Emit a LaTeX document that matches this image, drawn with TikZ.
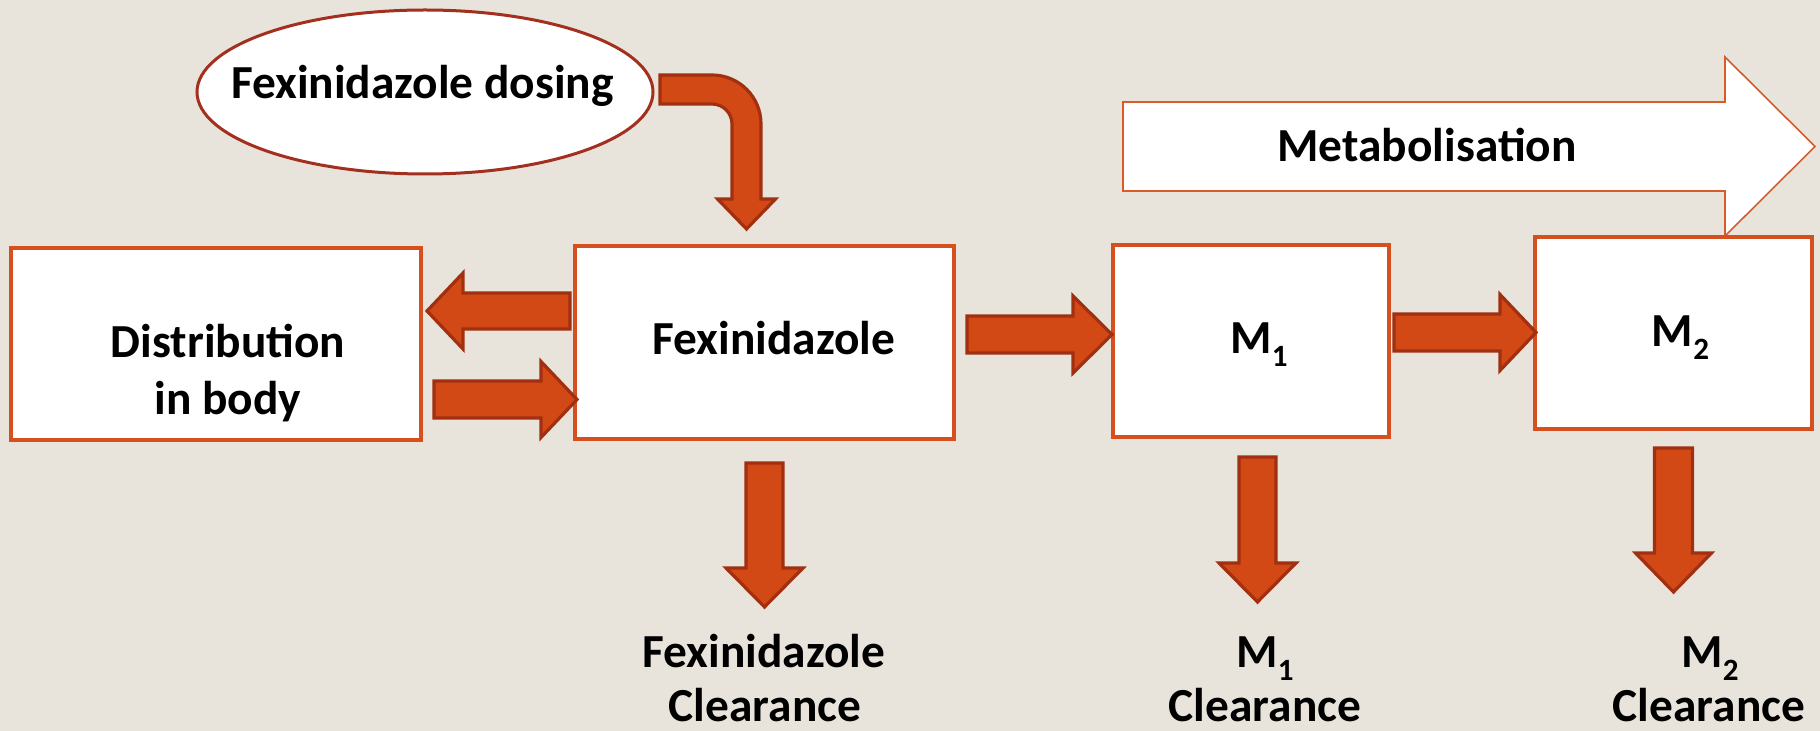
\documentclass[tikz,border=0pt]{standalone}
\usepackage{fontspec}
\setmainfont{Carlito}
\usetikzlibrary{calc,shapes.geometric}
\definecolor{bgc}{HTML}{E8E4DC}
\definecolor{afill}{HTML}{D24916}
\definecolor{aline}{HTML}{A03010}
\definecolor{boxline}{HTML}{D5501E}
\definecolor{ellline}{HTML}{A3301F}
\definecolor{metline}{HTML}{DA5A2A}
\newcommand\subd[1]{\raisebox{-6.5pt}{\fontsize{15.5}{15.5}\selectfont #1}}
\newcommand\blockarrow[5]{%
  \coordinate (tmpH) at ($(#2)!#5!(#1)$);
  \draw[barrow] ($(#1)!#3!90:(#2)$) -- ($(tmpH)!#3!-90:(#1)$) -- ($(tmpH)!#4!-90:(#1)$) -- (#2)
    -- ($(tmpH)!#4!90:(#1)$) -- ($(tmpH)!#3!90:(#1)$) -- ($(#1)!#3!-90:(#2)$) -- cycle;
}
\begin{document}
\begin{tikzpicture}[x=0.5pt,y=-0.5pt,
  barrow/.style={fill=afill,draw=aline,line width=1.6pt,line join=miter},
  boxnode/.style={draw=boxline,line width=2pt,fill=white,inner sep=0pt,rectangle},
  txt/.style={font=\fontsize{23.7}{28.5}\selectfont\bfseries,inner sep=0pt,anchor=base,text=black}]
\useasboundingbox (0,0) rectangle (1820,731);
\fill[bgc] (0,0) rectangle (1820,731);
% metabolisation arrow
\draw[fill=white,draw=metline,line width=0.8pt] (1123,102) -- (1725,102) -- (1725,57) -- (1815,146.5)
  -- (1725,236) -- (1725,191) -- (1123,191) -- cycle;
% boxes
\node[boxnode,minimum width=205pt,minimum height=96pt] (dist) at (216,344) {};
\node[boxnode,minimum width=189.5pt,minimum height=96.5pt] (fex) at (764.5,342.5) {};
\node[boxnode,minimum width=138pt,minimum height=96pt] (m1) at (1251,341) {};
\node[boxnode,minimum width=138.5pt,minimum height=96pt] (m2) at (1673.5,333) {};
\node[ellipse,draw=ellline,line width=1.5pt,fill=white,minimum width=228pt,minimum height=82pt,inner sep=0pt] (dose) at (425,92) {};
% bent arrow
\draw[barrow] (660,75) -- (712,75) arc[start angle=90,end angle=0,radius=24.5pt] -- (761,199) -- (775.5,199)
  -- (746.5,229) -- (717.5,199) -- (732,199) -- (732,124) arc[start angle=0,end angle=90,radius=10pt]
  -- (660,104) -- cycle;
% straight block arrows
\coordinate (a1s) at (570,311);   \coordinate (a1e) at (427,311);
\coordinate (a2s) at (434,399.5); \coordinate (a2e) at (577,399.5);
\coordinate (a3s) at (967,334.5); \coordinate (a3e) at (1112,334.5);
\coordinate (a4s) at (1394,332.5);\coordinate (a4e) at (1536,332.5);
\coordinate (c1s) at (764.5,463); \coordinate (c1e) at (764.5,607);
\coordinate (c2s) at (1257.5,457);\coordinate (c2e) at (1257.5,602);
\coordinate (c3s) at (1673.5,448);\coordinate (c3e) at (1673.5,592);
\blockarrow{a1s}{a1e}{9pt}{19pt}{18pt}
\blockarrow{a2s}{a2e}{9.25pt}{19pt}{18pt}
\blockarrow{a3s}{a3e}{9.25pt}{19.25pt}{19.5pt}
\blockarrow{a4s}{a4e}{9.25pt}{19pt}{18pt}
\blockarrow{c1s}{c1e}{9.25pt}{19.25pt}{19.5pt}
\blockarrow{c2s}{c2e}{9.25pt}{19.25pt}{19.5pt}
\blockarrow{c3s}{c3e}{9.5pt}{19pt}{19.5pt}
% texts
\node[txt] (dosetxt) at (422.5,99) {Fexinidazole dosing};
\node[txt] (disttxta) at (228,358) {Distribution};
\node[txt] (disttxtb) at (228,415) {in body};
\node[txt] (fextxt) at (774,355) {Fexinidazole};
\node[txt] (mettxt) at (1427,162) {Metabolisation};
\node[txt] (m1txt) at (1259,354) {M\subd{1}};
\node[txt] (m2txt) at (1680.5,347) {M\subd{2}};
\node[txt] (fexcla) at (764,667) {Fexinidazole};
\node[txt,text depth=0pt] (fexclb) at (765,721) {Clearance};
\node[txt] (m1cla) at (1265,667) {M\subd{1}};
\node[txt,text depth=0pt] (m1clb) at (1265,721) {Clearance};
\node[txt] (m2cla) at (1710,667) {M\subd{2}};
\node[txt,text depth=0pt] (m2clb) at (1709,721) {Clearance};
\end{tikzpicture}
\end{document}
